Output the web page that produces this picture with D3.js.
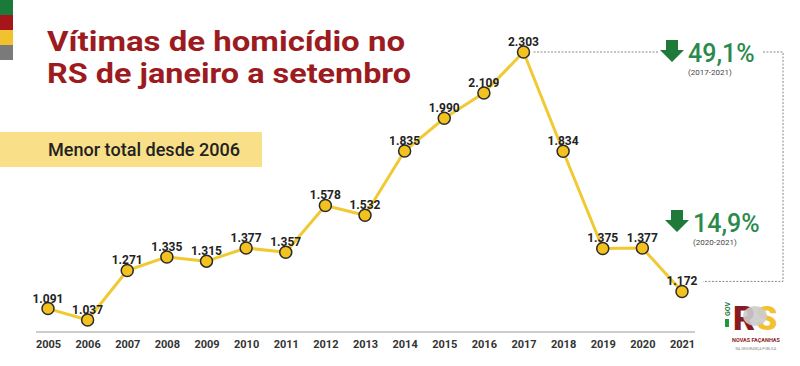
<!DOCTYPE html>
<html><head><meta charset="utf-8">
<script src="https://cdn.jsdelivr.net/npm/d3@7"></script>
<style>body{margin:0;background:#fff}svg{display:block}</style>
</head><body><svg id="c" width="800" height="366"></svg>
<script>
const years = ["2005","2006","2007","2008","2009","2010","2011","2012","2013","2014","2015","2016","2017","2018","2019","2020","2021"];
const victims = [1091,1037,1271,1335,1315,1377,1357,1578,1532,1835,1990,2109,2303,1834,1375,1377,1172];
const valueLabels = ["1.091","1.037","1.271","1.335","1.315","1.377","1.357","1.578","1.532","1.835","1.990","2.109","2.303","1.834","1.375","1.377","1.172"];
const titleLines = ["Vítimas de homicídio no","RS de janeiro a setembro"];
const bannerText = "Menor total desde 2006";
const changes = [{pct:"49,1%", range:"(2017-2021)"},{pct:"14,9%", range:"(2020-2021)"}];

const svg = d3.select("#c");
const x = d3.scalePoint().domain(years).range([48,682]);
const y = d3.scaleLinear().domain([1037,2303]).range([320,52]);

// side color stripes
const stripes = ["#1a7a3a","#a5161b","#f2c12e","#7a7a7a"];
svg.selectAll("rect.s").data(stripes).join("rect")
  .attr("x",0).attr("y",(d,i)=>i*15).attr("width",13).attr("height",15).attr("fill",d=>d);

// title
svg.append("g").selectAll("text").data(titleLines).join("text")
  .attr("x",47).attr("y",(d,i)=>51+i*32)
  .attr("font-family","Roboto, sans-serif").attr("font-weight",700).attr("font-size",28)
  .attr("fill","#9c1b20").attr("textLength",(d,i)=>i?364:358).attr("lengthAdjust","spacingAndGlyphs")
  .text(d=>d);

// banner
svg.append("rect").attr("x",0).attr("y",132).attr("width",262).attr("height",35).attr("fill","#f9df88");
svg.append("text").attr("x",48).attr("y",156).attr("font-family","Roboto, sans-serif")
  .attr("font-weight",500).attr("font-size",17.5).attr("fill","#222")
  .attr("textLength",192).attr("lengthAdjust","spacingAndGlyphs").text(bannerText);

// axis
const axis = svg.append("g").attr("transform","translate(0,332)")
  .call(d3.axisBottom(x).tickSize(0).tickPadding(8));
axis.select(".domain").attr("d","M36,0H695").attr("stroke","#bbb").attr("stroke-width",1.5);
axis.selectAll("text").attr("font-family","Roboto, sans-serif").attr("font-weight",700)
  .attr("font-size",11).attr("fill","#333");

// dotted annotation lines
const dot = {stroke:"#888","stroke-width":1,"stroke-dasharray":"2,1.5",fill:"none"};
function dl(d){const p=svg.append("path").attr("d",d);Object.entries(dot).forEach(([k,v])=>p.attr(k,v));}
const x17 = x("2017"), y17 = y(2303), y21 = y(1172);
dl(`M${x17+10},${y17}H658`);
dl(`M763,${y17}H783V${y21-10}H703`);

// line
const line = d3.line().x((d,i)=>x(years[i])).y(d=>y(d));
svg.append("path").datum(victims).attr("d",line).attr("fill","none")
  .attr("stroke","#f0c933").attr("stroke-width",3).attr("stroke-linejoin","round");

svg.selectAll("circle.p").data(victims).join("circle")
  .attr("cx",(d,i)=>x(years[i])).attr("cy",d=>y(d)).attr("r",6)
  .attr("fill","#f4c21f").attr("stroke","#2b2b2b").attr("stroke-width",1.5);

svg.selectAll("text.v").data(victims).join("text")
  .attr("x",(d,i)=>x(years[i])).attr("y",d=>y(d)-6).attr("text-anchor","middle")
  .attr("font-family","Roboto, sans-serif").attr("font-weight",700).attr("font-size",12)
  .attr("fill","#222").text((d,i)=>valueLabels[i]);

// change annotations
const annY = [62, 232], arrowX = [660, 665];
changes.forEach((c,i)=>{
  const ax = arrowX[i], by = annY[i];
  svg.append("path").attr("d",`M${ax+6},${by-22}h12v10h6l-12,12l-12,-12h6z`).attr("fill","#1f7a3a");
  svg.append("text").attr("x",ax+28).attr("y",by).attr("font-family","Roboto, sans-serif")
    .attr("font-weight",500).attr("font-size",25).attr("fill","#2a8a4c").text(c.pct);
  svg.append("text").attr("x",ax+28).attr("y",by+13).attr("font-family","Roboto, sans-serif")
    .attr("font-size",8).attr("fill","#444").text(c.range);
});

// logo
const lg = svg.append("g");
lg.append("rect").attr("x",725).attr("y",319).attr("width",4).attr("height",8).attr("fill","#1a9a3a");
lg.append("text").attr("transform","translate(730,316) rotate(-90)").attr("font-family","Roboto, sans-serif")
  .attr("font-weight",700).attr("font-size",7).attr("fill","#1a7a3a").text("GOV");
lg.append("text").attr("x",733).attr("y",330).attr("font-family","Roboto, sans-serif").attr("font-weight",900)
  .attr("font-size",34).attr("fill","#8a1a22").text("R");
lg.append("text").attr("x",756).attr("y",330).attr("font-family","Roboto, sans-serif").attr("font-weight",900)
  .attr("font-size",34).attr("fill","#f2c12e").text("S");
lg.append("ellipse").attr("cx",755).attr("cy",316).attr("rx",12).attr("ry",10).attr("fill","#ccc").attr("opacity",0.9);
lg.append("text").attr("x",756).attr("y",342).attr("text-anchor","middle").attr("font-family","Roboto, sans-serif")
  .attr("font-weight",700).attr("font-size",5.5).attr("fill","#8a1a22").text("NOVAS FAÇANHAS");
lg.append("text").attr("x",756).attr("y",350).attr("text-anchor","middle").attr("font-family","Roboto, sans-serif")
  .attr("font-size",3.5).attr("fill","#888").text("NA SEGURANÇA PÚBLICA");
</script></body></html>
